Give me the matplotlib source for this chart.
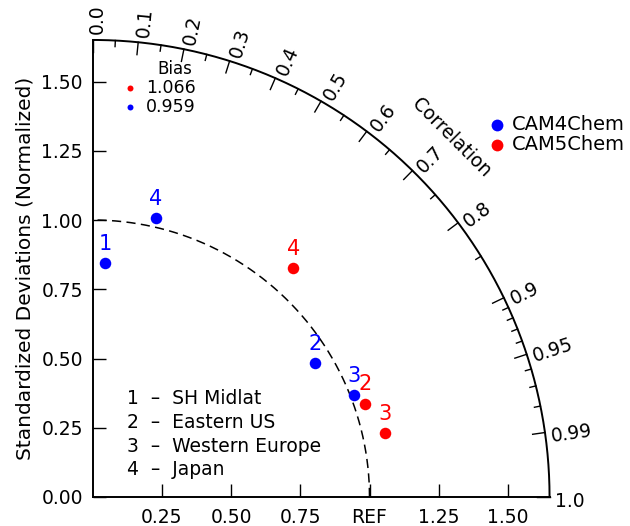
import numpy as np
import matplotlib
matplotlib.use("Agg")
import matplotlib.pyplot as plt

# ---- data -----------------------------------------------------------------
models = ["CAM4Chem", "CAM5Chem"]
model_colors = ["#0000FF", "#FF0000"]
case_names = ["SH Midlat", "Eastern US", "Western Europe", "Japan"]

# normalized standard deviation (model / obs) and pattern correlation per case
cam4_case = [1, 2, 3, 4]
cam4_ratio = [0.845, 0.937, 1.013, 1.032]
cam4_corr = [0.053, 0.857, 0.932, 0.221]

cam5_case = [2, 3, 4]
cam5_ratio = [1.040, 1.079, 1.099]
cam5_corr = [0.946, 0.977, 0.660]

bias_labels = ["1.066", "0.959"]          # CAM5Chem, CAM4Chem
bias_colors = ["#FF0000", "#0000FF"]

std_ticks = [0.25, 0.50, 0.75, 1.00, 1.25, 1.50]
std_tick_labels = ["0.25", "0.50", "0.75", "REF", "1.25", "1.50"]
ystd_ticks = [0.00, 0.25, 0.50, 0.75, 1.00, 1.25, 1.50]
ystd_tick_labels = ["0.00", "0.25", "0.50", "0.75", "1.00", "1.25", "1.50"]

corr_major = [0.0, 0.1, 0.2, 0.3, 0.4, 0.5, 0.6, 0.7, 0.8, 0.9, 0.95, 0.99, 1.0]
corr_major_labels = ["0.0", "0.1", "0.2", "0.3", "0.4", "0.5", "0.6", "0.7",
                     "0.8", "0.9", "0.95", "0.99", "1.0"]
corr_minor = [0.05, 0.15, 0.25, 0.35, 0.45, 0.55, 0.65, 0.75, 0.85,
              0.91, 0.92, 0.93, 0.94, 0.96, 0.97, 0.98]

RMAX = 1.65

# ---- figure / axes --------------------------------------------------------
W, H = 630, 526
PX = 277.0                 # pixels per unit of normalized std
X0, Y0 = 92.5, 497.0       # pixel position of the origin

fig = plt.figure(figsize=(W / 100, H / 100), dpi=100)
ax = fig.add_axes([X0 / W, (H - Y0) / H, RMAX * PX / W, RMAX * PX / H])
ax.set_xlim(0, RMAX)
ax.set_ylim(0, RMAX)
ax.patch.set_visible(False)
for s in ("top", "right"):
    ax.spines[s].set_visible(False)
for s in ("left", "bottom"):
    ax.spines[s].set_linewidth(1.4)

FS = 13.5
ax.set_xticks(std_ticks)
ax.set_xticklabels(std_tick_labels)
ax.set_yticks(ystd_ticks)
ax.set_yticklabels(ystd_tick_labels)
ax.tick_params(direction="in", length=9.5, width=1.0, labelsize=FS)
ax.tick_params(axis="x", pad=8)
ax.tick_params(axis="y", pad=7)
ax.set_ylabel("Standardized Deviations (Normalized)", fontsize=14.5, labelpad=5)

# outer correlation arc
th = np.linspace(0, np.pi / 2, 400)
ax.plot(RMAX * np.cos(th), RMAX * np.sin(th), color="black", lw=1.4,
        clip_on=False, solid_capstyle="butt")

# reference (std = 1) arc
ax.plot(np.cos(th), np.sin(th), color="black", lw=1.1,
        linestyle=(0, (6, 3.5)), clip_on=False)

# correlation ticks and labels
for c, lab in zip(corr_major, corr_major_labels):
    a = np.arccos(c)
    r0 = RMAX - 0.045
    ax.plot([r0 * np.cos(a), RMAX * np.cos(a)], [r0 * np.sin(a), RMAX * np.sin(a)],
            color="black", lw=1.0, clip_on=False)
    al = a - np.deg2rad(0.6)
    rl = RMAX + 0.02
    ax.text(rl * np.cos(al), rl * np.sin(al), lab, fontsize=FS,
            rotation=np.degrees(a), rotation_mode="anchor",
            ha="left", va="center")
for c in corr_minor:
    a = np.arccos(c)
    r0 = RMAX - 0.022
    ax.plot([r0 * np.cos(a), RMAX * np.cos(a)], [r0 * np.sin(a), RMAX * np.sin(a)],
            color="black", lw=1.0, clip_on=False)

ax.text(1.294, 1.296, "Correlation", fontsize=FS, rotation=-45,
        ha="center", va="center", rotation_mode="anchor")

# model points
for cases, ratio, corr, col in ((cam4_case, cam4_ratio, cam4_corr, model_colors[0]),
                                (cam5_case, cam5_ratio, cam5_corr, model_colors[1])):
    ratio = np.asarray(ratio)
    ang = np.arccos(np.asarray(corr))
    xs = ratio * np.cos(ang)
    ys = ratio * np.sin(ang)
    ax.plot(xs, ys, "o", color=col, ms=8.3, mec="none", clip_on=False)
    for k, x, y in zip(cases, xs, ys):
        ax.annotate(str(k), (x, y), xytext=(0, 14), textcoords="offset points",
                    ha="center", va="center", color=col, fontsize=15)

# model legend
for i, (m, col) in enumerate(zip(models, model_colors)):
    y = 1.343 - 0.072 * i
    ax.plot([1.459], [y], "o", color=col, ms=8.5, mec="none", clip_on=False)
    ax.text(1.513, y, m, fontsize=14, ha="left", va="center")

# bias legend
ax.text(0.298, 1.545, "Bias", fontsize=12, ha="center", va="center")
for i, (b, col) in enumerate(zip(bias_labels, bias_colors)):
    y = 1.476 - 0.069 * i
    ax.plot([0.135], [y], "o", color=col, ms=4.3, mec="none", clip_on=False)
    ax.text(0.193, y, b, fontsize=12.5, ha="left", va="center")

# case legend
for i, name in enumerate(case_names):
    y = 0.354 - 0.0855 * i
    ax.text(0.1245, y, f"{i + 1}  \u2013  {name}", fontsize=FS, ha="left", va="center")

fig.savefig("out.png", dpi=100)
